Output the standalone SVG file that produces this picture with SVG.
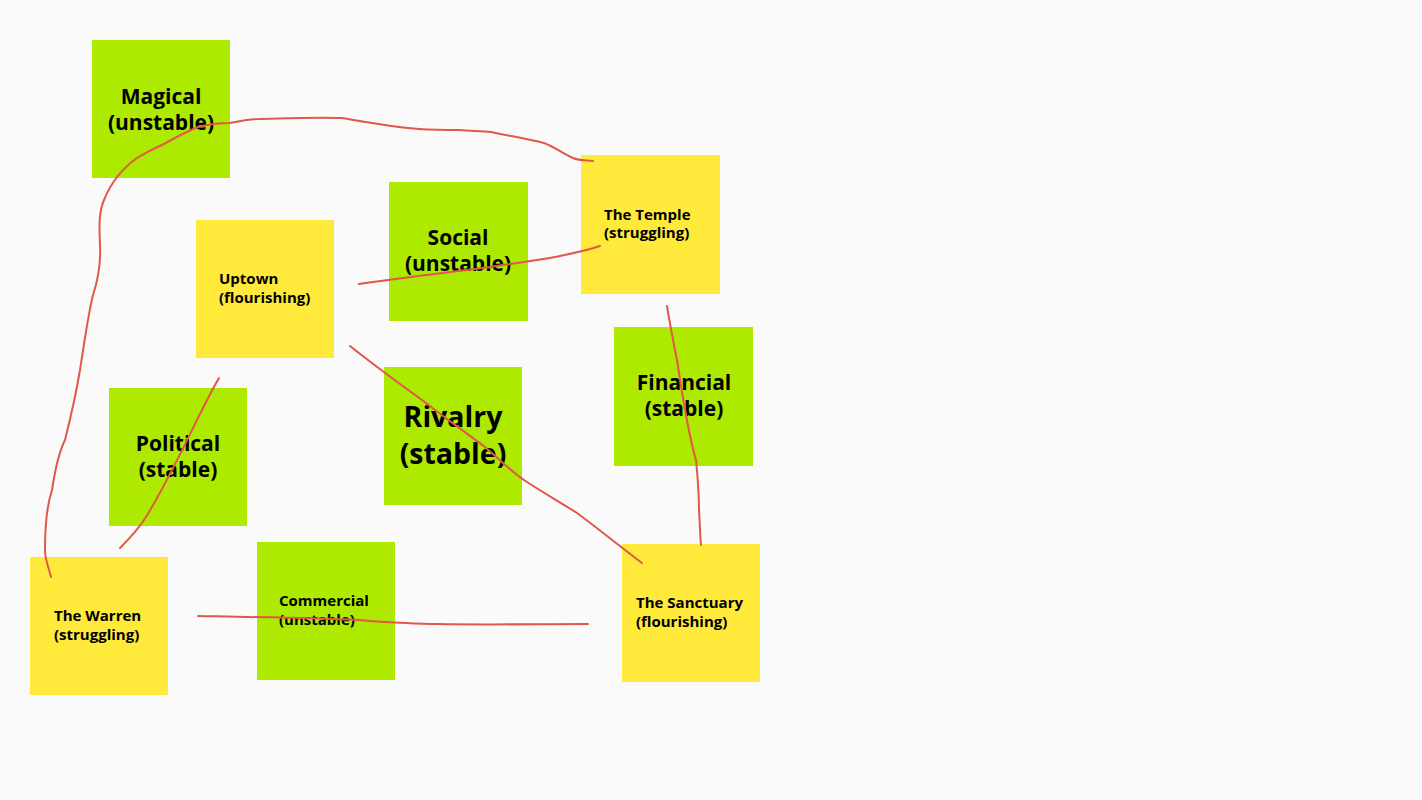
<svg xmlns="http://www.w3.org/2000/svg" width="1422" height="800" viewBox="0 0 1422 800">
<style>
.g{fill:#AEE900}
.y{fill:#FFE93B}
text{font-family:"Open Sans","Liberation Sans",sans-serif;font-weight:700;fill:#000}
.big{font-size:21px;text-anchor:middle}
.huge{font-size:28.5px;text-anchor:middle}
.sm{font-size:15px}
.c{fill:none;stroke:#E0584A;stroke-width:2;stroke-linecap:round;stroke-linejoin:round}
</style>
<rect width="1422" height="800" fill="#FAFAFA"/>
<g id="magical"><rect class="g" x="92" y="40" width="138" height="138"/><text class="big" x="161" y="104">Magical</text><text class="big" x="161" y="130">(unstable)</text></g>
<g id="social"><rect class="g" x="389" y="182" width="139" height="139"/><text class="big" x="458" y="245">Social</text><text class="big" x="458" y="271">(unstable)</text></g>
<g id="temple"><rect class="y" x="581" y="155" width="139" height="139"/><text class="sm" x="604" y="220">The Temple</text><text class="sm" x="604" y="238">(struggling)</text></g>
<g id="uptown"><rect class="y" x="196" y="220" width="138" height="138"/><text class="sm" x="219" y="284">Uptown</text><text class="sm" x="219" y="303">(flourishing)</text></g>
<g id="financial"><rect class="g" x="614" y="327" width="139" height="139"/><text class="big" x="684" y="390">Financial</text><text class="big" x="684" y="416">(stable)</text></g>
<g id="political"><rect class="g" x="109" y="388" width="138" height="138"/><text class="big" x="178" y="451">Political</text><text class="big" x="178" y="477">(stable)</text></g>
<g id="rivalry"><rect class="g" x="384" y="367" width="138" height="138"/><text class="huge" x="453" y="427">Rivalry</text><text class="huge" x="453" y="464">(stable)</text></g>
<g id="warren"><rect class="y" x="30" y="557" width="138" height="138"/><text class="sm" x="54" y="621">The Warren</text><text class="sm" x="54" y="640">(struggling)</text></g>
<g id="commercial"><rect class="g" x="257" y="542" width="138" height="138"/><text class="sm" x="279" y="606">Commercial</text><text class="sm" x="279" y="625">(unstable)</text></g>
<g id="sanctuary"><rect class="y" x="622" y="544" width="138" height="138"/><text class="sm" x="636" y="608">The Sanctuary</text><text class="sm" x="636" y="627">(flourishing)</text></g>
<g id="connectors">
<path class="c" d="M51,577 C49,568 45,560 45,550 C45,530 47,505 52,490 C55,470 60,450 65,440 C70,420 75,400 80,370 C84,345 88,315 93,295 C98,280 101,265 100,245 C99,225 99,212 104,200 C110,185 120,170 137,158 C150,150 155,148 162,145 C175,138 185,132 198,127 C210,124 220,123 230,123 C240,121 250,119 259,119 C290,118 320,117 341,118 C350,119 358,121 366,122 C385,125 400,128 419,129 C435,130 445,130 459,130 C470,131 480,131 491,132 C510,136 528,139 544,143 C555,147 565,155 573,158 C580,161 586,160 593,161"/>
<path class="c" d="M359,284 C400,278 450,272 491,267 C515,263 535,261 555,257 C575,253 588,250 600,246"/>
<path class="c" d="M667,306 C670,325 674,345 677,360 C683,400 690,440 696,460 C698,480 699,500 699,510 C700,525 700,535 701,545"/>
<path class="c" d="M219,378 C200,410 175,470 146,517 C138,530 128,540 120,548"/>
<path class="c" d="M350,346 C375,366 400,384 422,400 C445,418 465,432 485,447 C500,460 512,472 524,480 C545,494 560,502 577,513 C600,530 622,548 642,563"/>
<path class="c" d="M198,616 C250,617 310,618 359,620 C385,622 410,624 437,624 C490,625 540,624 588,624"/>
</g>
</svg>
